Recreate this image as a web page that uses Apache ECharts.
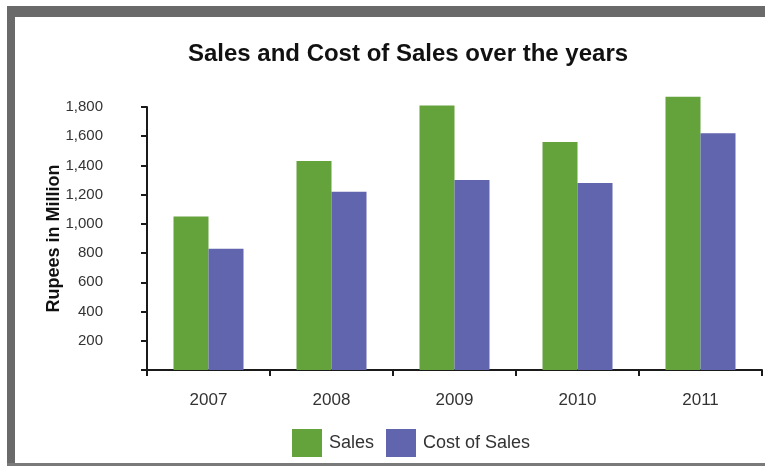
<!DOCTYPE html>
<html>
<head>
<meta charset="utf-8">
<script src="https://cdn.jsdelivr.net/npm/echarts@6/dist/echarts.min.js"></script>
<style>
html,body{margin:0;padding:0;background:#fff;}
#chart{width:765px;height:466px;}
</style>
</head>
<body>
<div id="chart"></div>
<script>
var years = ['2007', '2008', '2009', '2010', '2011'];
var sales = [1050, 1430, 1810, 1560, 1870];
var costOfSales = [830, 1220, 1300, 1280, 1620];
var yTicks = [0, 200, 400, 600, 800, 1000, 1200, 1400, 1600, 1800];

var chart = echarts.init(document.getElementById('chart'));
var font = 'Liberation Sans, Arial, Helvetica, sans-serif';
chart.setOption({
  backgroundColor: '#ffffff',
  animation: false,
  title: {
    text: 'Sales and Cost of Sales over the years',
    left: 403,
    top: 37,
    textAlign: 'center',
    textStyle: { fontFamily: font, fontSize: 24, fontWeight: 'bold', color: '#111' }
  },
  legend: {
    left: 292,
    top: 429,
    padding: 0,
    itemWidth: 30,
    itemHeight: 28,
    itemGap: 12,
    icon: 'rect',
    textStyle: { fontFamily: font, fontSize: 18, color: '#333', padding: [0, 0, 0, 2] },
    data: ['Sales', 'Cost of Sales']
  },
  graphic: [
    { type: 'rect', shape: { x: 7, y: 6, width: 758, height: 11 }, style: { fill: '#6a6a6a' }, silent: true },
    { type: 'rect', shape: { x: 7, y: 6, width: 8, height: 460 }, style: { fill: '#6a6a6a' }, silent: true },
    { type: 'rect', shape: { x: 7, y: 463, width: 758, height: 3 }, style: { fill: '#7a7a7a' }, silent: true }
  ],
  grid: {
    left: 147, right: 3, top: 107, bottom: 96,
    containLabel: false,
    outerBoundsMode: 'none'
  },
  xAxis: {
    type: 'category',
    data: years,
    axisLine: { lineStyle: { color: '#1a1a1a', width: 2 } },
    axisTick: { show: true, length: 6, lineStyle: { color: '#1a1a1a', width: 2 } },
    axisLabel: { fontFamily: font, fontSize: 17, color: '#333', margin: 22 }
  },
  yAxis: {
    type: 'value',
    min: 0,
    max: 1800,
    interval: 200,
    name: 'Rupees in Million',
    nameLocation: 'middle',
    nameRotate: 90,
    nameGap: 84,
    nameMoveOverlap: false,
    nameTextStyle: { fontFamily: font, fontSize: 18, fontWeight: 'bold', color: '#111' },
    splitLine: { show: false },
    axisLine: { show: true, lineStyle: { color: '#1a1a1a', width: 2 } },
    axisTick: { show: true, length: 6, lineStyle: { color: '#1a1a1a', width: 2 } },
    axisLabel: {
      fontFamily: font, fontSize: 15, color: '#333', margin: 44,
      formatter: function (v) { return v === 0 ? '' : v.toLocaleString('en-US'); }
    }
  },
  series: [
    {
      name: 'Sales', type: 'bar', data: sales, barWidth: 35, barGap: '0%', clip: false,
      itemStyle: { color: '#64a23c' }
    },
    {
      name: 'Cost of Sales', type: 'bar', data: costOfSales, barWidth: 35, barGap: '0%', clip: false,
      itemStyle: { color: '#6165ad' }
    }
  ]
});
</script>
</body>
</html>
